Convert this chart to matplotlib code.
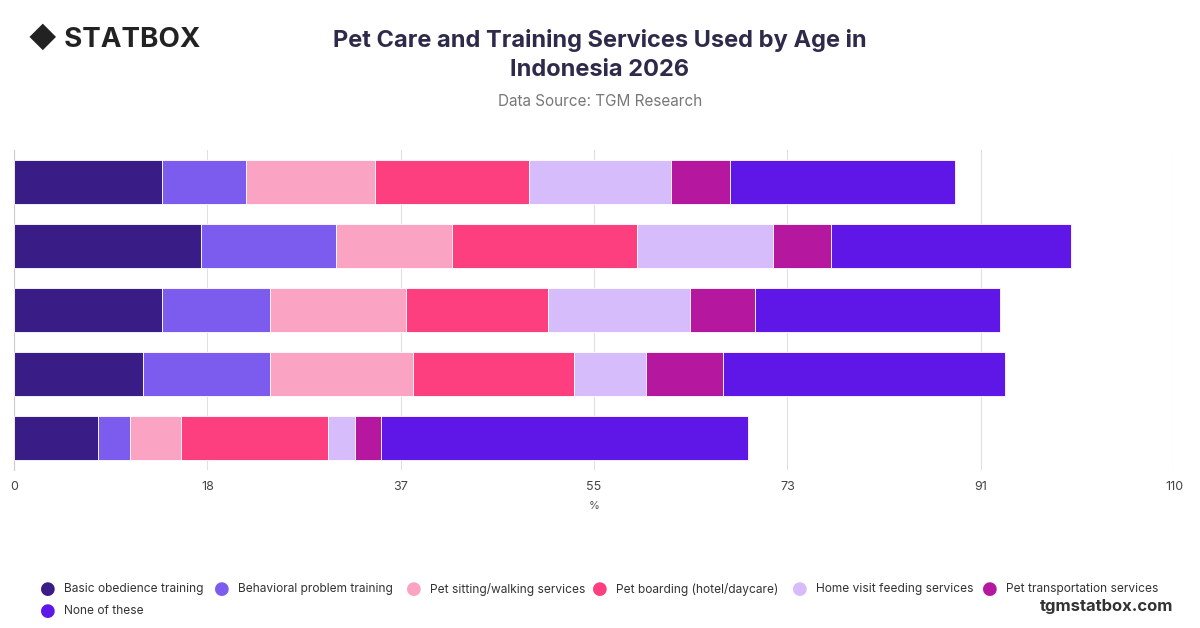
import numpy as np
import matplotlib
matplotlib.use("Agg")
import matplotlib.pyplot as plt

plt.rcParams["font.family"] = ["Inter", "DejaVu Sans"]

series = ["Basic obedience training", "Behavioral problem training", "Pet sitting/walking services",
          "Pet boarding (hotel/daycare)", "Home visit feeding services", "Pet transportation services",
          "None of these"]
colors = ["#3a1c87", "#7b5cee", "#fba3c3", "#fd3f80", "#d6bcfb", "#b5179e", "#5f17e8"]
# rows top to bottom
values = [
    [14.0, 8.0, 12.2, 14.6, 13.5, 5.6, 21.3],
    [17.7, 12.8, 11.0, 17.6, 12.9, 5.5, 22.7],
    [14.0, 10.3, 12.9, 13.4, 13.5, 6.2, 23.2],
    [12.2, 12.1, 13.5, 15.3, 6.8, 7.3, 26.8],
    [8.0, 3.0, 4.8, 14.0, 2.5, 2.5, 34.8],
]
ticks = [0, 110 / 6, 2 * 110 / 6, 3 * 110 / 6, 4 * 110 / 6, 5 * 110 / 6, 110]
tick_labels = ["0", "18", "37", "55", "73", "91", "110"]

W, H = 1200, 628
fig = plt.figure(figsize=(12, 6.28), dpi=100)
ax = fig.add_axes([14 / W, 1 - 470 / H, 1160 / W, 320 / H])

vals = np.array(values)
y = np.arange(len(values))
left = np.zeros(len(values))
for j, name in enumerate(series):
    ax.barh(y, vals[:, j], left=left, height=0.7, color=colors[j], edgecolor="white", linewidth=0.6, zorder=3)
    left += vals[:, j]

ax.set_ylim(len(values) - 0.5, -0.5)
ax.set_xlim(0, 110)
ax.set_xticks(ticks)
ax.set_xticklabels(tick_labels, fontsize=9, color="#444444")
ax.set_yticks([])
ax.grid(axis="x", color="#e0e0e0", linewidth=0.8, zorder=0)
for s in ["top", "right", "bottom"]:
    ax.spines[s].set_visible(False)
ax.spines["left"].set_color("#cccccc")
ax.tick_params(axis="x", length=0, pad=8)
ax.set_xlabel("%", fontsize=8, color="#555555", labelpad=6)

fig.text(0.5, 1 - 55 / H, "Pet Care and Training Services Used by Age in\nIndonesia 2026",
         ha="center", va="center", fontsize=17, fontweight="bold", color="#2d2a4a", linespacing=1.4)
fig.text(0.5, 1 - 101 / H, "Data Source: TGM Research", ha="center", va="center", fontsize=11, color="#777777")
fig.text(28 / W, 1 - 40 / H, "◆ STATBOX", ha="left", va="center", fontsize=20, fontweight="bold", color="#222222")
fig.text(0.978, 1 - 606 / H, "tgmstatbox.com", ha="right", va="center", fontsize=12, fontweight="bold", color="#333333")

# legend laid out by hand to match the reference spacing
leg_x = [48, 222, 414, 600, 800, 990, 48]
leg_y = [589, 589, 589, 589, 589, 589, 611]
for name, c, lx, ly in zip(series, colors, leg_x, leg_y):
    fig.text(lx / W, 1 - ly / H, "●", ha="center", va="center", fontsize=13, color=c, family="DejaVu Sans")
    fig.text((lx + 16) / W, 1 - ly / H, name, ha="left", va="center", fontsize=8.6, color="#333333")

fig.savefig("out.png", dpi=100)
